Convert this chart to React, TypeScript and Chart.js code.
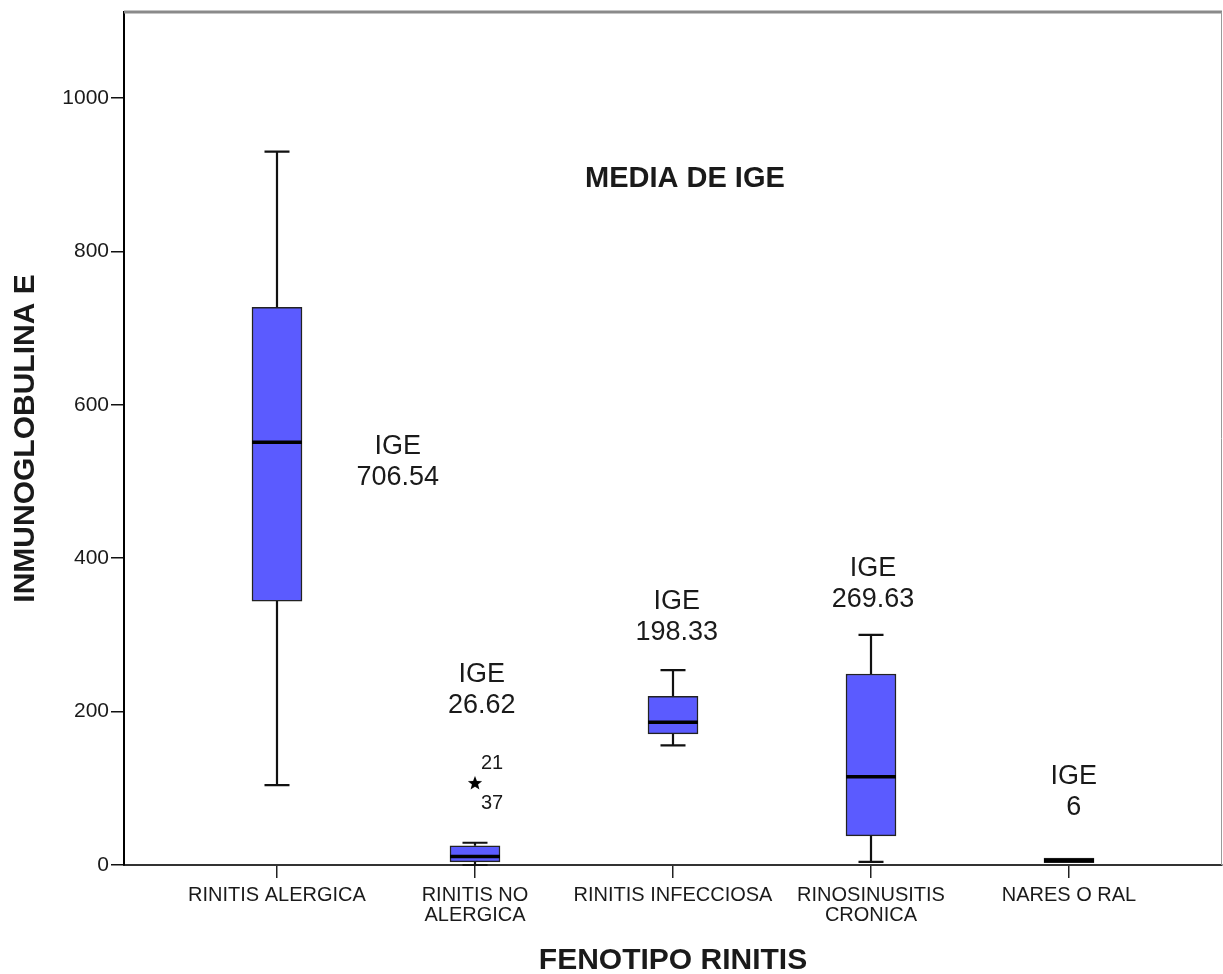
import React, { useEffect, useRef } from 'react';
import { Chart, registerables } from 'chart.js';

Chart.register(...registerables);

// ---------- data ----------
const categories: string[][] = [
  ['RINITIS ALERGICA'],
  ['RINITIS NO', 'ALERGICA'],
  ['RINITIS INFECCIOSA'],
  ['RINOSINUSITIS', 'CRONICA'],
  ['NARES O RAL'],
];
const whiskerMin = [104, 0, 156, 4, 6];
const q1 = [344, 4, 171, 38, 3];
const median = [551, 11, 186, 115, 6];
const q3 = [727, 25, 220, 249, 9];
const whiskerMax = [930, 29, 254, 300, 6];

const outlierCategory = [1];
const outlierValue = [107];
const outlierIds = [['21', '37']];

const meanValues = ['706.54', '26.62', '198.33', '269.63', '6'];
const yTicks = [0, 200, 400, 600, 800, 1000];

// ---------- annotation layout (data coordinates) ----------
const meanLabelX = [0.61, 1.034, 2.019, 3.01, 4.024];
const meanLabelY = [545, 248, 344, 387, 115];
const innerTitle = { text: 'MEDIA DE IGE', x: 2.06, y: 894 };

const FONT = '"Liberation Sans", Arial, Helvetica, sans-serif';
const TEXT = '#1a1a1a';
const BOX_W = 50;

function makeStar(): HTMLCanvasElement {
  const c = document.createElement('canvas');
  c.width = 16;
  c.height = 16;
  const g = c.getContext('2d')!;
  g.fillStyle = '#000';
  g.beginPath();
  for (let k = 0; k < 10; k++) {
    const r = k % 2 === 0 ? 7.5 : 3.2;
    const a = -Math.PI / 2 + (k * Math.PI) / 5;
    const px = 8 + r * Math.cos(a);
    const py = 8.5 + r * Math.sin(a);
    if (k === 0) g.moveTo(px, py);
    else g.lineTo(px, py);
  }
  g.closePath();
  g.fill();
  return c;
}

const boxPlugin = {
  id: 'boxWhiskers',
  afterDatasetsDraw(chart: any) {
    const { ctx } = chart;
    const x = chart.scales.x;
    const y = chart.scales.y;
    ctx.save();
    categories.forEach((_, i) => {
      const cx = x.getPixelForValue(i);
      const half = BOX_W / 2;
      const yMax = y.getPixelForValue(whiskerMax[i]);
      const yMin = y.getPixelForValue(whiskerMin[i]);
      const yQ1 = y.getPixelForValue(q1[i]);
      const yQ3 = y.getPixelForValue(q3[i]);
      const yMed = y.getPixelForValue(median[i]);
      ctx.strokeStyle = '#111';
      ctx.lineWidth = 2.2;
      ctx.beginPath();
      if (yMax < yQ3) {
        ctx.moveTo(cx, yMax);
        ctx.lineTo(cx, yQ3);
      }
      if (yMin > yQ1) {
        ctx.moveTo(cx, yQ1);
        ctx.lineTo(cx, yMin);
      }
      ctx.moveTo(cx - half / 2, yMax);
      ctx.lineTo(cx + half / 2, yMax);
      ctx.moveTo(cx - half / 2, yMin);
      ctx.lineTo(cx + half / 2, yMin);
      ctx.stroke();
      ctx.lineWidth = 3.5;
      ctx.strokeStyle = '#000';
      ctx.beginPath();
      ctx.moveTo(cx - half, yMed);
      ctx.lineTo(cx + half, yMed);
      ctx.stroke();
    });
    ctx.restore();
  },
  afterDraw(chart: any) {
    const { ctx, chartArea } = chart;
    const x = chart.scales.x;
    const y = chart.scales.y;
    ctx.save();
    // frame
    ctx.strokeStyle = '#8a8a8a';
    ctx.lineWidth = 3;
    ctx.beginPath();
    ctx.moveTo(chartArea.left, chartArea.top);
    ctx.lineTo(chartArea.right, chartArea.top);
    ctx.stroke();
    ctx.strokeStyle = '#9a9a9a';
    ctx.lineWidth = 1;
    ctx.beginPath();
    ctx.moveTo(chartArea.right - 0.5, chartArea.top);
    ctx.lineTo(chartArea.right - 0.5, chartArea.bottom);
    ctx.stroke();

    ctx.fillStyle = TEXT;
    ctx.textAlign = 'center';
    ctx.textBaseline = 'middle';
    // inner title
    ctx.font = `bold 29px ${FONT}`;
    ctx.fillText(innerTitle.text, x.getPixelForValue(innerTitle.x), y.getPixelForValue(innerTitle.y));
    // mean labels
    ctx.font = `27px ${FONT}`;
    meanValues.forEach((v, i) => {
      const px = x.getPixelForValue(meanLabelX[i]);
      const py = y.getPixelForValue(meanLabelY[i]);
      ctx.fillText('IGE', px, py);
      ctx.fillText(v, px, py + 31);
    });
    // outlier ids
    ctx.font = `20px ${FONT}`;
    ctx.textAlign = 'left';
    outlierCategory.forEach((c, i) => {
      const px = x.getPixelForValue(c);
      const py = y.getPixelForValue(outlierValue[i]);
      ctx.fillText(outlierIds[i][0], px + 6, py - 19);
      ctx.fillText(outlierIds[i][1], px + 6, py + 21);
    });
    ctx.restore();
  },
};

export default function App() {
  const ref = useRef<HTMLCanvasElement>(null);
  useEffect(() => {
    if (!ref.current) return;
    const star = makeStar();
    const chart = new Chart(ref.current, {
      type: 'bar',
      data: {
        datasets: [
          {
            type: 'bar',
            data: categories.map((_, i) => ({ x: i, y: [q1[i], q3[i]] })) as any,
            backgroundColor: '#5b5bff',
            borderColor: '#222',
            borderWidth: 1.5,
            borderSkipped: false,
            barThickness: BOX_W,
          } as any,
          {
            type: 'scatter',
            data: outlierCategory.map((c, i) => ({ x: c, y: outlierValue[i] })),
            pointStyle: star as any,
            pointRadius: 7,
            showLine: false,
          } as any,
        ],
      },
      options: {
        responsive: false,
        animation: false,
        events: [],
        layout: { autoPadding: false, padding: { top: 12, right: 1, left: 0, bottom: 0 } },
        plugins: { legend: { display: false }, tooltip: { enabled: false } },
        scales: {
          x: {
            type: 'linear',
            min: -0.7727,
            max: 4.7727,
            offset: false,
            afterBuildTicks: (s: any) => {
              s.ticks = categories.map((_, i) => ({ value: i }));
            },
            afterFit: (s: any) => {
              s.height = 109;
              s.paddingLeft = 0;
              s.paddingRight = 0;
            },
            ticks: {
              callback: (v: any) => categories[v as number],
              font: { family: FONT, size: 20, lineHeight: 1 },
              color: TEXT,
              padding: 7,
              maxRotation: 0,
              autoSkip: false,
            },
            grid: {
              offset: false,
              drawOnChartArea: false,
              drawTicks: true,
              tickLength: 13,
              color: '#222',
              lineWidth: 1.5,
            },
            border: { display: true, color: '#333', width: 2 },
            title: {
              display: true,
              text: 'FENOTIPO RINITIS',
              font: { family: FONT, size: 30, weight: 'bold', lineHeight: 0.8 },
              color: TEXT,
              padding: { top: 0, bottom: 1 },
            },
          } as any,
          y: {
            type: 'linear',
            min: 0,
            max: 1112,
            afterBuildTicks: (s: any) => {
              s.ticks = yTicks.map((v) => ({ value: v }));
            },
            afterFit: (s: any) => {
              s.width = 124;
              s.paddingTop = 0;
              s.paddingBottom = 0;
            },
            ticks: {
              callback: (v: any) => String(v),
              font: { family: FONT, size: 21, lineHeight: 1 },
              color: TEXT,
              padding: 2,
            },
            grid: {
              drawOnChartArea: false,
              drawTicks: true,
              tickLength: 13,
              color: '#111',
              lineWidth: 1.5,
            },
            border: { display: true, color: '#000', width: 2 },
            title: {
              display: true,
              text: 'INMUNOGLOBULINA E',
              font: { family: FONT, size: 30, weight: 'bold', lineHeight: 1 },
              color: TEXT,
              padding: { top: 11, bottom: 0 },
            },
          } as any,
        },
      },
      plugins: [boxPlugin],
    });
    return () => chart.destroy();
  }, []);

  return (
    <div style={{ position: 'absolute', left: 0, top: 0, width: 1223, height: 974, background: '#fff' }}>
      <canvas ref={ref} width={1223} height={974} style={{ display: 'block' }} />
    </div>
  );
}
